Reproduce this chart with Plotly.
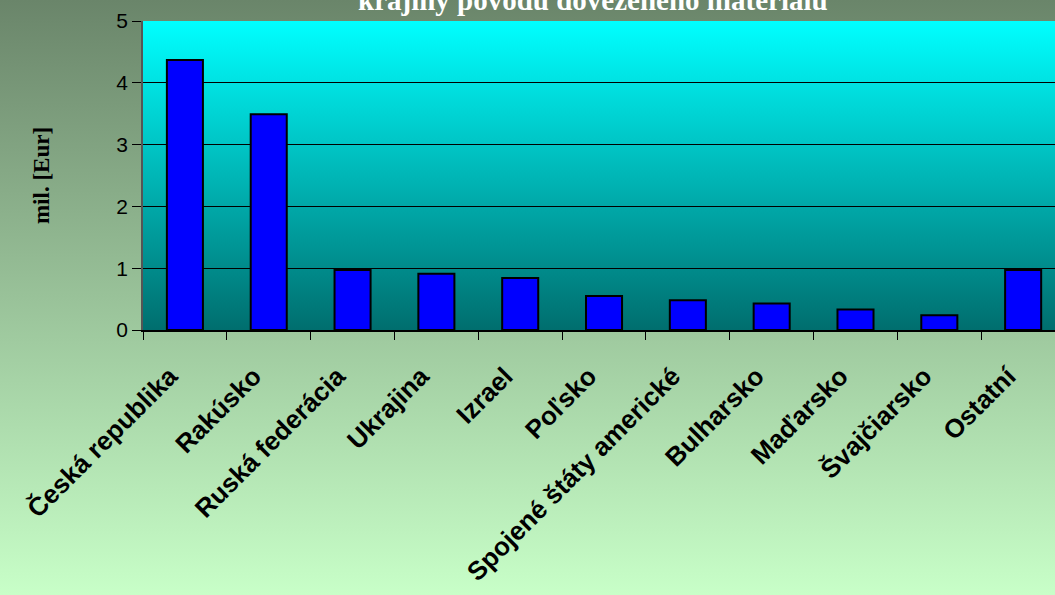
import base64
import plotly.graph_objects as go

categories = ["Česká republika", "Rakúsko", "Ruská federácia", "Ukrajina", "Izrael",
              "Poľsko", "Spojené štáty americké", "Bulharsko", "Maďarsko",
              "Švajčiarsko", "Ostatní"]
values = [4.37, 3.49, 0.97, 0.91, 0.84, 0.55, 0.48, 0.43, 0.33, 0.24, 0.97]
y_ticks = [0, 1, 2, 3, 4, 5]
title_text = "krajiny pôvodu dovezeného materiálu"
y_title = "mil. [Eur]"

W, H = 1055, 595
ML, MR, MT, MB = 143, 0, 21, 265


def grad_uri(c1, c2):
    svg = ('<svg xmlns="http://www.w3.org/2000/svg" width="100" height="100" preserveAspectRatio="none" '
           'viewBox="0 0 100 100"><defs><linearGradient id="g" x1="0" y1="0" x2="0" y2="1">'
           f'<stop offset="0" stop-color="{c1}"/><stop offset="1" stop-color="{c2}"/>'
           '</linearGradient></defs><rect width="100" height="100" fill="url(#g)"/></svg>')
    return "data:image/svg+xml;base64," + base64.b64encode(svg.encode()).decode()


fig = go.Figure()
fig.add_trace(go.Bar(
    x=categories, y=values, width=0.43,
    marker=dict(color="#0000FF", line=dict(color="black", width=2)),
))

fig.update_layout(
    width=W, height=H,
    margin=dict(l=ML, r=MR, t=MT, b=MB),
    paper_bgcolor="rgba(0,0,0,0)",
    plot_bgcolor="rgba(0,0,0,0)",
    showlegend=False,
    images=[
        dict(source=grad_uri("#6A856A", "#C8FFC8"), xref="paper", yref="paper",
             x=-ML / (W - ML - MR), y=1 + MT / (H - MT - MB),
             sizex=W / (W - ML - MR), sizey=H / (H - MT - MB),
             xanchor="left", yanchor="top", sizing="stretch", layer="below"),
        dict(source=grad_uri("#00FFFF", "#006E6E"), xref="paper", yref="paper",
             x=0, y=1, sizex=1, sizey=1, xanchor="left", yanchor="top",
             sizing="stretch", layer="below"),
    ],
    xaxis=dict(
        range=[-0.5, 10.38],
        automargin=False,
        tickangle=-45,
        tickfont=dict(family="Liberation Sans, Arial", size=26, color="black", weight="bold"),
        ticks="outside", ticklen=8, tickcolor="black", tickson="boundaries",
        ticklabelstandoff=19, ticklabelshift=-15,
        showline=True, linecolor="black", linewidth=1.5,
        showgrid=False,
    ),
    yaxis=dict(
        range=[0, 5], tickvals=y_ticks,
        automargin=False,
        tickfont=dict(family="Liberation Sans, Arial", size=21, color="black"),
        ticks="outside", ticklen=9, tickcolor="black",
        showline=True, linecolor="#555555", linewidth=1.5,
        showgrid=True, gridcolor="black", gridwidth=1,
        zeroline=False,
        title=dict(text=y_title, standoff=60,
                   font=dict(family="Liberation Serif, Times New Roman", size=23,
                             color="black", weight="bold")),
    ),
    annotations=[dict(
        text=title_text, xref="paper", yref="paper", x=0.493, y=1.0,
        xanchor="center", yanchor="bottom", yshift=3, showarrow=False,
        font=dict(family="Liberation Serif, Times New Roman", size=29,
                  color="white", weight="bold"),
    )],
)

fig.write_html("out.html", config={"displayModeBar": False},
               post_script="document.body.style.margin='0';document.body.style.overflow='hidden';")
